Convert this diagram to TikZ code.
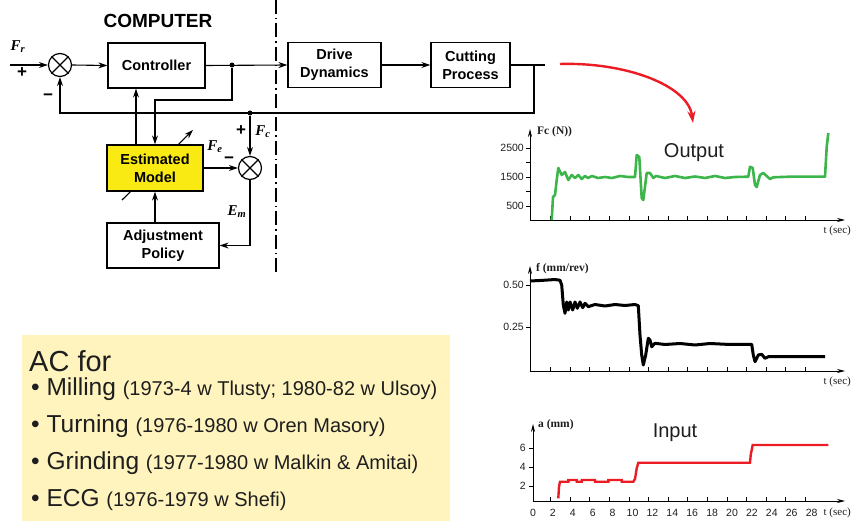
\documentclass[tikz,border=0pt]{standalone}
\usepackage{fontspec}
\setmainfont{Liberation Sans}
\newfontfamily\labelserif{Liberation Serif}
\usetikzlibrary{arrows.meta}
\definecolor{modelyellow}{RGB}{250,234,20}
\definecolor{notebg}{RGB}{255,244,190}
\definecolor{plotgreen}{RGB}{60,182,74}
\definecolor{plotred}{RGB}{236,28,36}
\definecolor{textgray}{RGB}{30,30,30}

\begin{document}
\begin{tikzpicture}[x=1pt,y=-1pt,
  block/.style={draw,line width=1.2pt,minimum height=45pt,align=center,inner sep=0pt,
    font=\fontsize{14.5}{18}\selectfont\bfseries},
  sumjunction/.style={draw,circle,line width=1.2pt,minimum size=23pt,inner sep=0pt},
  sig/.style={-{Stealth[length=9pt,width=6pt]},line width=1.1pt},
  dot/.style={circle,fill,inner sep=0pt,minimum size=5pt},
  sign/.style={font=\fontsize{17}{17}\selectfont\bfseries,inner sep=0pt},
  varlabel/.style={font=\labelserif\fontsize{15}{15}\selectfont\bfseries\itshape,inner sep=0pt},
  axis/.style={-{Stealth[length=8pt,width=4pt]},line width=0.8pt},
  ticklabel/.style={font=\fontsize{10.5}{10.5}\selectfont,inner sep=0pt,text=textgray},
  axislabel/.style={font=\labelserif\fontsize{11}{11}\selectfont,inner sep=0pt,text=textgray},
  noteline/.style={anchor=west,inner sep=0pt,text=textgray,font=\fontsize{24.5}{24.5}\selectfont}]
\useasboundingbox (0,0) rectangle (852,521);

\node[font=\fontsize{19}{19}\selectfont\bfseries] (computer) at (158,21) {COMPUTER};
\draw[line width=1.4pt,dash pattern=on 14pt off 4pt on 1.5pt off 4pt] (276,0) -- (276,275);

\coordinate (adjlow) at (122,200);
\coordinate (adjhigh) at (193,130);
\draw[sig] (adjlow) -- (adjhigh);

\node[sumjunction] (s1) at (60,65) {};
\draw[line width=1.2pt] (s1.north west) -- (s1.south east) (s1.north east) -- (s1.south west);
\node[block,minimum width=97pt] (ctrl) at (156.5,65.5) {Controller};
\node[block,minimum width=93pt] (drive) at (334.5,65) {Drive\\Dynamics};
\node[block,minimum width=79pt] (cut) at (470.5,65) {Cutting\\Process};
\node[block,minimum width=96pt,minimum height=46pt,fill=modelyellow] (model) at (155,168) {Estimated\\Model};
\node[block,minimum width=112pt] (policy) at (163,245.5) {Adjustment\\Policy};
\node[sumjunction] (s2) at (250,168) {};
\draw[line width=1.2pt] (s2.north west) -- (s2.south east) (s2.north east) -- (s2.south west);

\node[dot] (d1) at (232,65) {};
\node[dot] (d2) at (250,113) {};
\coordinate (in) at (10,65);
\coordinate (fb) at (534,65);
\coordinate (outend) at (545,65);
\coordinate (tap) at (200,100);

\draw[sig] (in) -- (s1.west);
\draw[sig] (s1.east) -- (ctrl.west);
\draw[sig] (ctrl.east) -- (drive.west);
\draw[sig] (drive.east) -- (cut.west);
\draw[line width=2pt] (cut.east) -- (outend);
\draw[sig] (fb) -- (fb |- d2) -| (s1.south);
\draw[sig] (d2) -- (s2.north);
\draw[sig] (d1) |- (tap) -| (model.north);
\draw[sig] ([xshift=-19pt]model.north) -- ([xshift=-19pt]model.north |- ctrl.south);
\draw[sig] (model.east) -- (s2.west);
\draw[sig] (s2.south) |- (policy.east);
\draw[sig] (policy.north -| model.south) -- (model.south);

\node[varlabel] (lblfr) at (18,47) {F\textsubscript{r}};
\node[sign] (plus1) at (22,73) {+};
\node[sign] (minus1) at (48,97) {−};
\node[sign] (plus2) at (241,131) {+};
\node[varlabel] (lblfc) at (263,132) {F\textsubscript{c}};
\node[varlabel] (lblfe) at (215,147) {F\textsubscript{e}};
\node[sign] (minus2) at (229,160) {−};
\node[varlabel] (lblem) at (237,212) {E\textsubscript{m}};

\coordinate (redstart) at (560,64);
\coordinate (redend) at (693,123);
\draw[plotred,line width=2.4pt,-{Stealth[length=12pt,width=8pt]}] (redstart) .. controls (625,62) and (688,85) .. (redend);

\draw[axis] (530,220) -- (845,220);
\draw[axis] (530,220) -- (530,129);
\foreach \t in {2,4,...,28} \draw[line width=0.7pt] (531+9.8*\t,220) -- (531+9.8*\t,216);
\foreach \v in {500,1000,...,2500} \draw[line width=0.7pt] (526,220.5-0.029*\v) -- (530,220.5-0.029*\v);
\foreach \v in {500,1500,2500} \node[ticklabel,anchor=east] at (524,220.5-0.029*\v) {\v};
\node[axislabel,anchor=west,font=\labelserif\bfseries\fontsize{11.5}{11.5}\selectfont] (fclabel) at (537,132) {Fc (N))};
\node[axislabel,anchor=east] (t1label) at (851,231) {t (sec)};
\node[font=\fontsize{20}{20}\selectfont,text=textgray] (outputlabel) at (694,153) {Output};
\draw[plotgreen,line width=2.6pt,line join=round] (551.7,220) -- (553,197) -- (555,195) -- (556.7,180) -- (558.3,168) -- (561.7,175) -- (565,172) -- (568.3,180) -- (571.7,175) -- (575,178) -- (578.3,175) -- (581.7,179) -- (585,176) -- (588,178) -- (592,176) -- (598,178) -- (605,177) -- (612,178) -- (620,176) -- (628,177) -- (635,177) -- (636.7,155) -- (639.3,157) -- (641.7,198) -- (643.3,200) -- (646.7,173) -- (650,173) -- (653.3,178) -- (656,176) -- (665,178) -- (675,176) -- (685,178) -- (695,176.5) -- (705,178) -- (715,176) -- (725,178) -- (735,177) -- (748.3,176.7) -- (750,166.7) -- (752.7,168) -- (755,185) -- (756.7,187) -- (760,175) -- (763.3,173) -- (766.7,176) -- (770,179) -- (773.3,177.3) -- (790,176.7) -- (825,176.7) -- (826.7,147) -- (828.3,133);

\draw[axis] (530,371) -- (845,371);
\draw[axis] (530,371) -- (530,266);
\foreach \t in {2,4,...,28} \draw[line width=0.7pt] (531+9.8*\t,371) -- (531+9.8*\t,367);
\foreach \v in {0.25,0.50} \draw[line width=0.7pt] (526,369-168*\v) -- (530,369-168*\v);
\foreach \v in {0.25,0.50} \node[ticklabel,anchor=east] at (524,369-168*\v) {\v};
\node[axislabel,anchor=west,font=\labelserif\bfseries\fontsize{11.5}{11.5}\selectfont] (flabel) at (536,269) {f (mm/rev)};
\node[axislabel,anchor=east] (t2label) at (851,382) {t (sec)};
\draw[black,line width=3pt,line join=round] (530,281) -- (540,280.5) -- (548,280) -- (555,279.5) -- (560,280.3) -- (561.7,285) -- (563.3,305) -- (565,313.3) -- (566.7,302) -- (568.3,310) -- (570,302) -- (572.7,310) -- (575,302) -- (577.3,308.3) -- (580,302) -- (582.7,307.7) -- (585,303.3) -- (588.3,306.7) -- (595,304.5) -- (605,306) -- (615,304.5) -- (625,305.5) -- (635,304.5) -- (638.3,305.7) -- (640,335) -- (641.7,355) -- (643.3,365) -- (645.7,355) -- (648.3,338.3) -- (650,340) -- (651.7,346.7) -- (655,343.3) -- (665,344.5) -- (680,343.5) -- (695,345) -- (710,343.5) -- (730,344.5) -- (751.7,344.3) -- (753.3,355) -- (755,361.7) -- (758.3,355) -- (761.7,354.3) -- (765,358.3) -- (768.3,356.7) -- (771.7,356.7) -- (825,356.7);

\draw[axis] (533,501) -- (845,501);
\draw[axis] (533,501) -- (533,424);
\foreach \t in {2,4,...,28} \draw[line width=0.7pt] (531+9.8*\t,501) -- (531+9.8*\t,497);
\foreach \t in {0,2,...,28} \node[ticklabel] at (533+9.95*\t,513) {\t};
\foreach \v in {2,4,6} \draw[line width=0.7pt] (529,504.8-9.42*\v) -- (533,504.8-9.42*\v);
\foreach \v in {2,4,6} \node[ticklabel,anchor=east] at (526,504.8-9.42*\v) {\v};
\node[axislabel,anchor=west,font=\labelserif\bfseries\fontsize{11.5}{11.5}\selectfont] (alabel) at (538,425) {a (mm)};
\node[axislabel,anchor=east] (t3label) at (851,513) {t (sec)};
\node[font=\fontsize{20}{20}\selectfont,text=textgray] (inputlabel) at (675,433) {Input};
\draw[plotred,line width=2.4pt] (558.3,498.3) -- (559,486.7) -- (560,481.7) -- (568.3,481.7) -- (568.3,480) -- (576.7,480) -- (576.7,481.7) -- (581.7,481.7) -- (581.7,480) -- (595,480) -- (595,481.7) -- (608.3,481.7) -- (608.3,480) -- (621.7,480) -- (621.7,481.7) -- (633.3,481.7) -- (635,479) -- (636.7,468.3) -- (638.3,462.7) -- (750,462.7) -- (750.7,455) -- (752.7,445) -- (828.3,445);

\fill[notebg] (22,335) rectangle (450,521);
\node[noteline,font=\fontsize{29}{29}\selectfont] (acfor) at (29,361) {AC for};
\node[noteline] (milling) at (31,389) {• Milling {\fontsize{20}{20}\selectfont (1973-4 w Tlusty; 1980-82 w Ulsoy)}};
\node[noteline] (turning) at (31,426) {• Turning {\fontsize{20}{20}\selectfont (1976-1980 w Oren Masory)}};
\node[noteline] (grinding) at (31,463) {• Grinding {\fontsize{20}{20}\selectfont (1977-1980 w Malkin \& Amitai)}};
\node[noteline] (ecg) at (31,500) {• ECG {\fontsize{20}{20}\selectfont (1976-1979 w Shefi)}};
\end{tikzpicture}
\end{document}
